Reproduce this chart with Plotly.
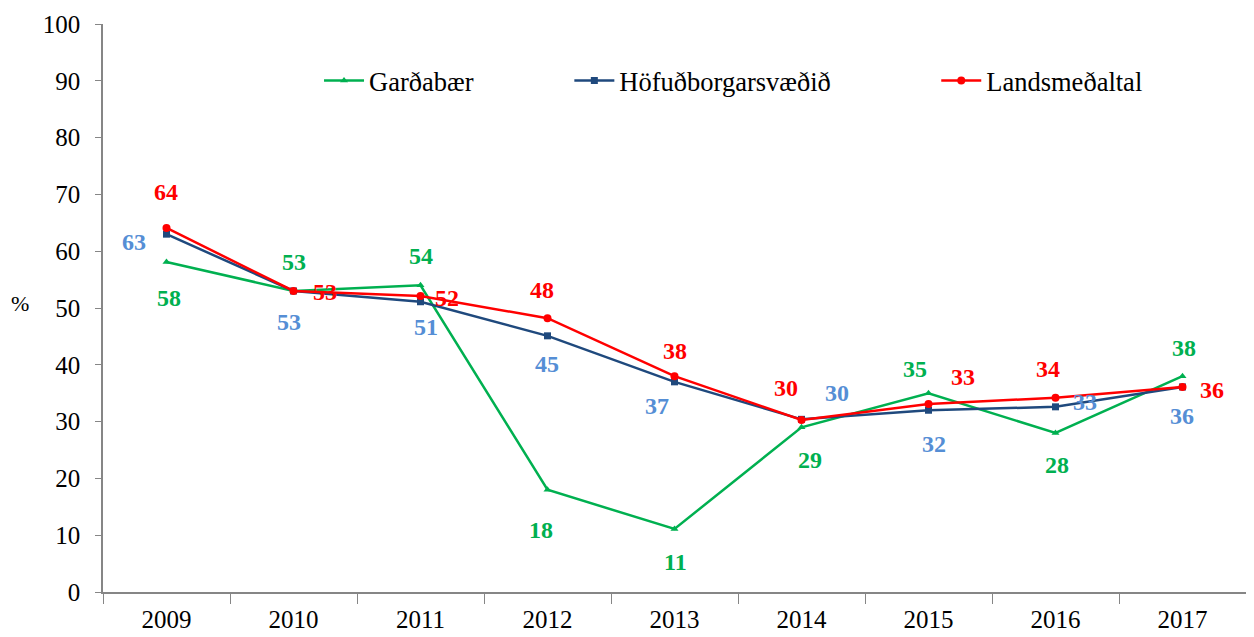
import plotly.graph_objects as go

years = ["2009", "2010", "2011", "2012", "2013", "2014", "2015", "2016", "2017"]
gardabaer = [58.1, 53.0, 54.0, 18.0, 11.1, 29.0, 35.0, 28.0, 38.0]
hofudborg = [63.0, 53.0, 51.1, 45.1, 37.0, 30.4, 32.0, 32.6, 36.1]
landsmedaltal = [64.1, 53.0, 52.1, 48.2, 38.0, 30.3, 33.1, 34.2, 36.1]

# label offsets in pixels (xshift, yshift) per point
g_off = [(2, -36), (0, 29), (0, 29), (-7, -40), (1, -33), (8, -33), (-14, 24), (1, -32), (1, 28)]
h_off = [(-33, -8), (-5, -31), (5, -25), (-1, -28), (-18, -24), (35, 26), (5, -34), (29, 5), (-1, -29)]
l_off = [(-1, 36), (31, -1), (26, -2), (-6, 28), (0, 25), (-16, 32), (34, 27), (-8, 29), (29, -3)]

font = "Liberation Serif"
fig = go.Figure()

series = [
    ("Garðabær", gardabaer, "#00B050", "#00B050", "triangle-up", 7, g_off, "legend"),
    ("Höfuðborgarsvæðið", hofudborg, "#1F497D", "#558ED5", "square", 7, h_off, "legend2"),
    ("Landsmeðaltal", landsmedaltal, "#FF0000", "#FF0000", "circle", 8, l_off, "legend3"),
]

for name, vals, color, lblcolor, sym, msize, offs, leg in series:
    fig.add_trace(go.Scatter(
        x=years, y=vals, name=name, mode="lines+markers",
        line=dict(color=color, width=2.5),
        marker=dict(symbol=sym, size=msize, color=color),
        legend=leg, showlegend=True,
    ))
    for i, (v, (dx, dy)) in enumerate(zip(vals, offs)):
        fig.add_annotation(
            x=i, y=v, text=f"{round(v)}", showarrow=False,
            xshift=dx, yshift=dy,
            font=dict(family=font, size=24, color=lblcolor, weight="bold"),
        )

fig.add_annotation(
    x=-0.0726, y=0.508, xref="paper", yref="paper", text="%", showarrow=False,
    xanchor="center", yanchor="middle",
    font=dict(family=font, size=22, color="black"),
)

leg_style = dict(orientation="h", yanchor="middle", y=0.9, xanchor="left",
                 font=dict(family=font, size=26.5, color="black"),
                 bgcolor="rgba(0,0,0,0)", itemwidth=40)

# the page body has an 8px margin, so margins are reduced accordingly
fig.update_layout(
    width=1246, height=629,
    margin=dict(l=95, r=8, t=16, b=45),
    plot_bgcolor="white", paper_bgcolor="white",
    font=dict(family=font, size=25, color="black"),
    showlegend=True,
    legend=dict(x=0.189, **leg_style),
    legend2=dict(x=0.408, **leg_style),
    legend3=dict(x=0.729, **leg_style),
    xaxis=dict(
        type="category", range=[-0.5, 8.5], tickson="boundaries", ticks="outside", ticklen=10,
        tickcolor="#868686", showline=True, linecolor="#868686", linewidth=1.5,
        showgrid=False, tickfont=dict(family=font, size=25), tickangle=0,
        ticklabelstandoff=4, automargin=False,
    ),
    yaxis=dict(
        range=[0, 100], dtick=10, ticks="outside", ticklen=6,
        tickcolor="#868686", showline=True, linecolor="#868686", linewidth=1.5,
        showgrid=False, zeroline=False, tickfont=dict(family=font, size=25),
        ticklabelstandoff=10, automargin=False,
    ),
)

fig.write_html("out.html")
